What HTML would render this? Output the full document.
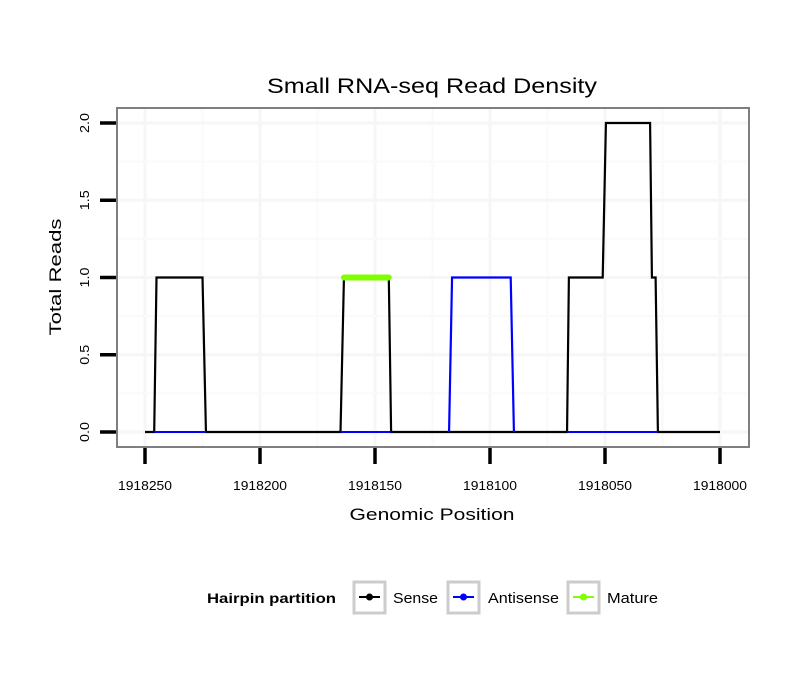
<!DOCTYPE html>
<html><head><meta charset="utf-8"><style>
body{margin:0;background:#fff}
svg text{font-family:"Liberation Sans",sans-serif}
</style></head><body>
<svg id="chart" width="810" height="690" xmlns="http://www.w3.org/2000/svg">
<text x="432" y="93" font-size="21" text-anchor="middle" textLength="330" lengthAdjust="spacingAndGlyphs">Small RNA-seq Read Density</text>
<rect x="117" y="108" width="632" height="339" fill="#fff"/>
<g id="grid"></g>
<g id="series"></g>
<rect x="117" y="108" width="632" height="339" fill="none" stroke="#7f7f7f" stroke-width="2"/>
<g id="axes"></g>
<text x="432" y="520" font-size="17" text-anchor="middle" textLength="165" lengthAdjust="spacingAndGlyphs">Genomic Position</text>
<text transform="translate(61,277) rotate(-90)" font-size="17" text-anchor="middle" textLength="117" lengthAdjust="spacingAndGlyphs">Total Reads</text>
<g>
<text x="207" y="603" font-size="14" font-weight="bold" textLength="129" lengthAdjust="spacingAndGlyphs">Hairpin partition</text>
<g><rect x="354" y="582" width="31" height="31" fill="#fff" stroke="#cccccc" stroke-width="3"/><line x1="359" y1="597" x2="380" y2="597" stroke="#000" stroke-width="2"/><circle cx="369.5" cy="597" r="3.5" fill="#000"/><text x="393" y="603" font-size="15" textLength="45" lengthAdjust="spacingAndGlyphs">Sense</text></g>
<g><rect x="448" y="582" width="31" height="31" fill="#fff" stroke="#cccccc" stroke-width="3"/><line x1="453" y1="597" x2="474" y2="597" stroke="#0000ff" stroke-width="2"/><circle cx="463.5" cy="597" r="3.5" fill="#0000ff"/><text x="488" y="603" font-size="15" textLength="71" lengthAdjust="spacingAndGlyphs">Antisense</text></g>
<g><rect x="568" y="582" width="31" height="31" fill="#fff" stroke="#cccccc" stroke-width="3"/><line x1="573" y1="597" x2="594" y2="597" stroke="#7fff00" stroke-width="2"/><circle cx="583.5" cy="597" r="3.5" fill="#7fff00"/><text x="607" y="603" font-size="15" textLength="51" lengthAdjust="spacingAndGlyphs">Mature</text></g>
</g>
</svg>
<script>
const xTicks=[1918250,1918200,1918150,1918100,1918050,1918000];
const xTickLabels=["1918250","1918200","1918150","1918100","1918050","1918000"];
const yTicks=[0,0.5,1,1.5,2];
const yTickLabels=["0.0","0.5","1.0","1.5","2.0"];
const senseX=[1918250,1918246,1918245,1918225,1918223.5,1918165,1918163.5,1918144,1918143,1918066.5,1918065.7,1918051,1918049.6,1918030.4,1918029.6,1918028,1918027,1918000];
const senseY=[0,0,1,1,0,0,1,1,0,0,1,1,2,2,1,1,0,0];
const antiSegments=[[1918246,1918223.5],[1918165,1918143],[1918066.5,1918027]];
const antiX=[1918117.8,1918116.5,1918091,1918089.6];
const antiY=[0,1,1,0];
const matureX=[1918163.5,1918144];
const matureY=[1,1];
const sx=p=>145+(1918250-p)*2.3;
const sy=v=>432-v*154.5;
const NS="http://www.w3.org/2000/svg";
function mk(parent,tag,attrs){const e=document.createElementNS(NS,tag);for(const k in attrs)e.setAttribute(k,attrs[k]);document.getElementById(parent).appendChild(e);return e;}
for(let i=0;i<xTicks.length;i++){
 const g=mk('grid','line',{x1:sx(xTicks[i]),x2:sx(xTicks[i]),y1:109,y2:446,stroke:'#f6f6f6','stroke-width':3});
 
 
 if(i<xTicks.length-1){const m=(xTicks[i]+xTicks[i+1])/2;
 const g2=mk('grid','line',{x1:sx(m),x2:sx(m),y1:109,y2:446,stroke:'#fafafa','stroke-width':2});
 
 }
}
for(let i=0;i<yTicks.length;i++){
 const g=mk('grid','line',{x1:118,x2:748,y1:sy(yTicks[i]),y2:sy(yTicks[i]),stroke:'#f6f6f6','stroke-width':3});
 
 
 if(i<yTicks.length-1){const m=(yTicks[i]+yTicks[i+1])/2;
 const g2=mk('grid','line',{x1:118,x2:748,y1:sy(m),y2:sy(m),stroke:'#fafafa','stroke-width':2});
 
 }
}
const sp=mk('series','polyline',{points:senseX.map((p,i)=>sx(p)+','+sy(senseY[i])).join(' '),fill:'none',stroke:'#000','stroke-width':2.2});


for(const s of antiSegments){
 const a=mk('series','line',{x1:sx(s[0]),x2:sx(s[1]),y1:sy(0),y2:sy(0),stroke:'#0000ff','stroke-width':2});
 
 
}
const ap=mk('series','polyline',{points:antiX.map((p,i)=>sx(p)+','+sy(antiY[i])).join(' '),fill:'none',stroke:'#0000ff','stroke-width':2.2});


const mp=mk('series','polyline',{points:matureX.map((p,i)=>sx(p)+','+sy(matureY[i])).join(' '),fill:'none',stroke:'#7fff00','stroke-width':6,'stroke-linecap':'round'});


for(let i=0;i<xTicks.length;i++){
 const x=sx(xTicks[i]);
 const t=mk('axes','line',{x1:x,x2:x,y1:448,y2:464,stroke:'#000','stroke-width':3.5});
 
 
 const l=mk('axes','text',{x:x,y:490,'font-size':13,'text-anchor':'middle',textLength:54,lengthAdjust:'spacingAndGlyphs'});
 l.textContent=xTickLabels[i];
 
 
}
for(let i=0;i<yTicks.length;i++){
 const y=sy(yTicks[i]);
 const t=mk('axes','line',{x1:100,x2:116,y1:y,y2:y,stroke:'#000','stroke-width':3.5});
 
 
 const l=mk('axes','text',{transform:`translate(89,${y}) rotate(-90)`,'font-size':13,'text-anchor':'middle',textLength:20,lengthAdjust:'spacingAndGlyphs'});
 l.textContent=yTickLabels[i];
 
 
}
</script>
</body></html>
